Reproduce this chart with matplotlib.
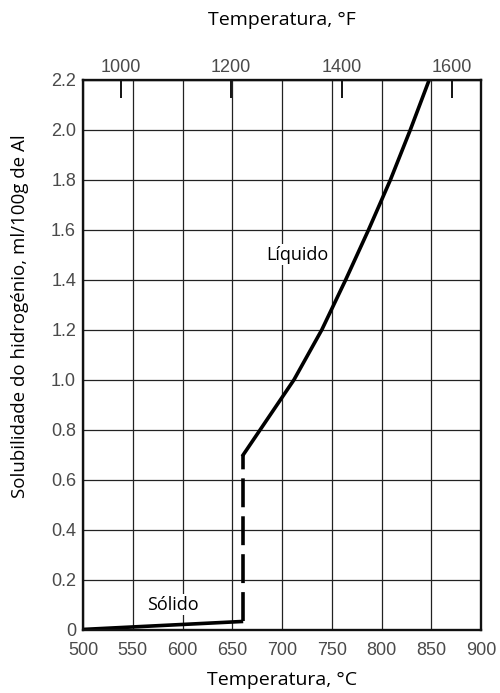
import matplotlib
matplotlib.use("Agg")
import matplotlib.pyplot as plt

# solubilidade do hidrogénio no alumínio
solid_t = [500, 661]
solid_s = [0.002, 0.034]
melt_t = [661, 661]
melt_s = [0.034, 0.70]
liquid_t = [661, 678, 712, 740, 764, 787, 809, 829, 848]
liquid_s = [0.70, 0.80, 1.0, 1.2, 1.40, 1.60, 1.80, 2.0, 2.2]

x_ticks = [500, 550, 600, 650, 700, 750, 800, 850, 900]
y_ticks = [0, 0.2, 0.4, 0.6, 0.8, 1.0, 1.2, 1.4, 1.6, 1.8, 2.0, 2.2]
y_labels = ["0", "0.2", "0.4", "0.6", "0.8", "1.0", "1.2", "1.4", "1.6", "1.8", "2.0", "2.2"]
f_ticks = [1000, 1200, 1400, 1600]

label_font = "Open Sans"
tick_font = "Liberation Sans"
tick_color = "#4a4a4a"


def c2f(c):
    return c * 9 / 5 + 32


def f2c(f):
    return (f - 32) * 5 / 9


fig = plt.figure(figsize=(5, 6.93), dpi=100)
ax = fig.add_axes([0.166, 0.091, 0.796, 0.794])

ax.plot(solid_t, solid_s, color="black", lw=2.6, solid_capstyle="butt")
ax.plot(melt_t, melt_s, color="black", lw=2.6, linestyle=(0, (8, 2.5)), dash_capstyle="butt")
ax.plot(liquid_t, liquid_s, color="black", lw=2.6, solid_joinstyle="round")

ax.set_xlim(500, 900)
ax.set_ylim(0, 2.2)
ax.set_xticks(x_ticks)
ax.set_yticks(y_ticks)
ax.set_yticklabels(y_labels)
ax.grid(True, color="#222222", lw=0.9)
ax.set_axisbelow(True)
ax.tick_params(length=0, labelsize=13, labelcolor=tick_color)
ax.tick_params(axis="x", pad=9)
ax.tick_params(axis="y", pad=5)
for lab in ax.get_xticklabels() + ax.get_yticklabels():
    lab.set_fontfamily(tick_font)
for sp in ax.spines.values():
    sp.set_linewidth(1.7)
    sp.set_color("#111111")

ax.set_xlabel("Temperatura, °C", family=label_font, fontsize=14, labelpad=8)
ax.set_ylabel("Solubilidade do hidrogénio, ml/100g de Al", family=label_font, fontsize=13.5)
ax.yaxis.set_label_coords(-0.135, 0.571)

top = ax.secondary_xaxis("top", functions=(c2f, f2c))
top.set_xticks(f_ticks)
top.tick_params(direction="in", length=13, width=1.3, pad=3, labelsize=13, labelcolor=tick_color)
for lab in top.get_xticklabels():
    lab.set_fontfamily(tick_font)
top.set_xlabel("Temperatura, °F", family=label_font, fontsize=14, labelpad=24)

ax.text(715, 1.50, "Líquido", family=label_font, fontsize=13, ha="center", va="center",
        bbox=dict(facecolor="white", edgecolor="none", pad=1))
ax.text(590, 0.10, "Sólido", family=label_font, fontsize=13, ha="center", va="center",
        bbox=dict(facecolor="white", edgecolor="none", pad=1))

fig.savefig("out.png", dpi=100)
